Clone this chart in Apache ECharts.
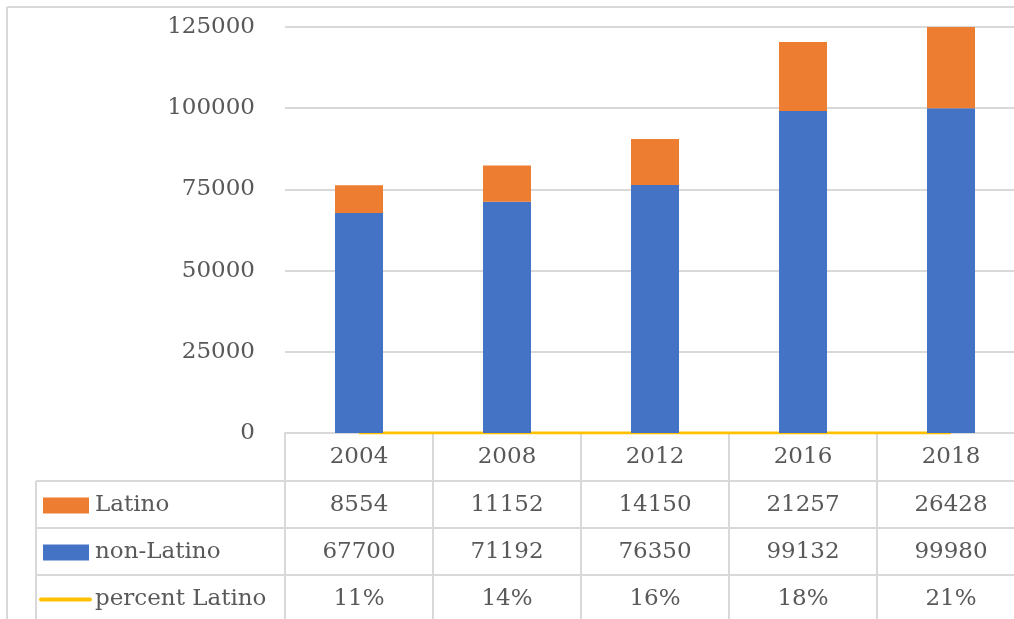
<!DOCTYPE html>
<html>
<head>
<meta charset="utf-8">
<script src="https://cdn.jsdelivr.net/npm/echarts@6/dist/echarts.min.js"></script>
<style>
  html, body { margin: 0; padding: 0; background: #fff; }
  #chart { width: 1014px; height: 619px; }
</style>
</head>
<body>
<div id="chart"></div>
<script>
// Election years and voter counts
const years = ['2004', '2008', '2012', '2016', '2018'];
const latino = [8554, 11152, 14150, 21257, 26428];
const nonLatino = [67700, 71192, 76350, 99132, 99980];
const percentLatino = [0.11, 0.14, 0.16, 0.18, 0.21];
const yTicks = [0, 25000, 50000, 75000, 100000, 125000];

const seriesNames = ['Latino', 'non-Latino', 'percent Latino'];
const colors = { latino: '#ED7D31', nonLatino: '#4472C4', pct: '#FFC000' };
const FONT = 'DejaVu Serif';
const TEXT = '#595959';
const RULE = '#d9d9d9';

const chart = echarts.init(document.getElementById('chart'), null, { renderer: 'canvas' });

chart.setOption({
  animation: false,
  backgroundColor: '#fff',
  grid: { left: 285, top: 27, width: 740, height: 406, outerBoundsMode: 'none', containLabel: false },
  xAxis: {
    type: 'category',
    data: years,
    axisLine: { show: true, lineStyle: { color: RULE, width: 2 } },
    axisTick: { show: false },
    axisLabel: { color: TEXT, fontFamily: FONT, fontSize: 23, margin: 13 }
  },
  yAxis: {
    type: 'value',
    min: yTicks[0],
    max: yTicks[yTicks.length - 1],
    interval: yTicks[1] - yTicks[0],
    axisLine: { show: false },
    axisTick: { show: false },
    splitLine: { lineStyle: { color: RULE, width: 2 } },
    axisLabel: {
      color: TEXT, fontFamily: FONT, fontSize: 23, margin: 30,
      formatter: v => String(v)
    }
  },
  series: [
    {
      name: seriesNames[2], type: 'line', data: percentLatino,
      symbol: 'none', lineStyle: { color: colors.pct, width: 3 }, z: 1
    },
    {
      name: seriesNames[1], type: 'bar', stack: 'votes', data: nonLatino,
      barWidth: 48, itemStyle: { color: colors.nonLatino }, z: 2
    },
    {
      name: seriesNames[0], type: 'bar', stack: 'votes', data: latino,
      barWidth: 48, itemStyle: { color: colors.latino }, z: 2
    }
  ]
});

// Data table below the plot, aligned to the category bands
function buildTable() {
  const c0 = chart.convertToPixel({ xAxisIndex: 0 }, 0);
  const c1 = chart.convertToPixel({ xAxisIndex: 0 }, 1);
  const band = c1 - c0;
  const axisY = chart.convertToPixel({ yAxisIndex: 0 }, 0);
  const plotLeft = c0 - band / 2;
  const plotRight = plotLeft + band * years.length;
  const rowH = 47;
  const tableLeft = 36;
  const rows = [axisY, axisY + 48, axisY + 48 + rowH, axisY + 48 + 2 * rowH, axisY + 48 + 3 * rowH];
  const els = [];
  const line = (x1, y1, x2, y2) => els.push({
    type: 'line', silent: true,
    shape: { x1, y1, x2, y2 },
    style: { stroke: RULE, lineWidth: 2 }
  });

  // outer frame
  line(7, 7, 1014, 7);
  line(7, 7, 7, 619);

  // horizontal rules
  for (let r = 1; r < rows.length; r++) line(tableLeft, rows[r], plotRight, rows[r]);
  // vertical rules
  for (let i = 0; i <= years.length; i++) {
    const x = plotLeft + band * i;
    line(x, axisY, x, 619);
  }
  line(tableLeft, rows[1], tableLeft, 619);

  const rowValues = [
    latino.map(String),
    nonLatino.map(String),
    percentLatino.map(v => Math.round(v * 100) + '%')
  ];
  rowValues.forEach((vals, r) => {
    const cy = (rows[r + 1] + rows[r + 2]) / 2 + 1;
    vals.forEach((v, i) => {
      els.push({
        type: 'text', silent: true,
        style: {
          x: c0 + band * i, y: cy, text: v,
          fill: TEXT, font: '23px "' + FONT + '"',
          textAlign: 'center', textVerticalAlign: 'middle'
        }
      });
    });
    // legend key
    if (r < 2) {
      els.push({
        type: 'rect', silent: true,
        shape: { x: 43, y: cy - 8, width: 46, height: 16 },
        style: { fill: r === 0 ? colors.latino : colors.nonLatino }
      });
    } else {
      els.push({
        type: 'line', silent: true,
        shape: { x1: 41, y1: cy, x2: 90, y2: cy },
        style: { stroke: colors.pct, lineWidth: 4, lineCap: 'round' }
      });
    }
    els.push({
      type: 'text', silent: true,
      style: {
        x: 95, y: cy, text: seriesNames[r],
        fill: TEXT, font: '23px "' + FONT + '"',
        textAlign: 'left', textVerticalAlign: 'middle'
      }
    });
  });

  chart.setOption({ graphic: { elements: els } });
}

buildTable();
</script>
</body>
</html>
